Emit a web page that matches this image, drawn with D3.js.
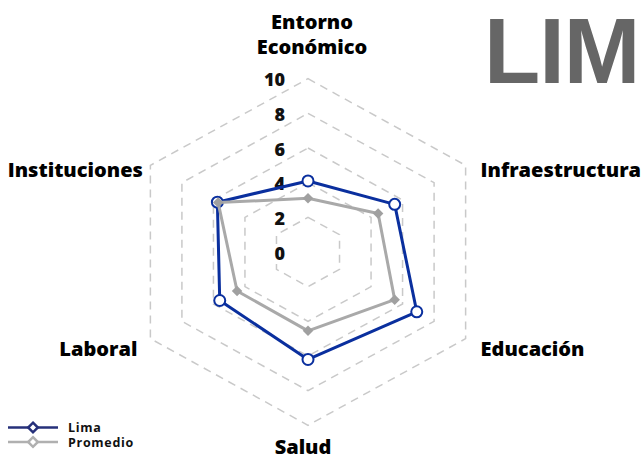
<!DOCTYPE html>
<html><head><meta charset="utf-8">
<script src="https://cdn.jsdelivr.net/npm/d3@7"></script>
<style>
html,body{margin:0;padding:0;background:#fff;}
svg{display:block;font-family:"Open Sans",Lato,sans-serif;}
</style></head>
<body>
<svg id="chart" width="643" height="457"></svg>
<script>
// ---- data ----
const axes = ["Entorno Económico", "Infraestructura", "Educación", "Salud", "Laboral", "Instituciones"];
const lima = [4.1, 5.5, 6.9, 6.2, 5.6, 5.75];
const promedio = [3.1, 4.45, 5.5, 4.55, 4.5, 5.7];
const ticks = [0, 2, 4, 6, 8, 10];
const gridLevels = [2, 4, 6, 8, 10];
const seriesNames = ["Lima", "Promedio"];
const title = "LIM";

// ---- layout ----
const svg = d3.select("#chart");
const cx = 308, cy = 252;
const ry = d3.scaleLinear().domain([0, 10]).range([0, 173.3]);
const rx = d3.scaleLinear().domain([0, 10]).range([0, 182]);
const angle = d3.scaleLinear().domain([0, axes.length]).range([0, 2 * Math.PI]);
const px = (i, v) => cx + rx(v) * Math.sin(angle(i));
const py = (i, v) => cy - ry(v) * Math.cos(angle(i));
const blue = "#0a2f9e", grey = "#a9a9a9";

// title
svg.append("text").attr("x", 484).attr("y", 83)
  .attr("font-family", "Liberation Sans, Arial, sans-serif")
  .attr("font-weight", "bold").attr("font-size", 92).attr("fill", "#666")
  .attr("letter-spacing", -1).text(title);

// grid
const ringLine = d3.line().x(d => px(d[0], d[1])).y(d => py(d[0], d[1])).curve(d3.curveLinearClosed);
svg.append("g").selectAll("path").data(gridLevels).join("path")
  .attr("d", lv => ringLine(axes.map((a, i) => [i, lv])))
  .attr("fill", "none").attr("stroke", "#c9c9c9").attr("stroke-width", 1.5)
  .attr("stroke-dasharray", "8,6");

// tick labels
svg.append("g").selectAll("text").data(ticks).join("text")
  .attr("x", 285).attr("y", t => py(0, t) + 7.5)
  .attr("text-anchor", "end").attr("font-weight", "800").attr("font-size", 18)
  .attr("fill", "#111").text(t => t);

// axis labels
const lab = svg.append("g").attr("font-weight", "800").attr("font-size", 20).attr("fill", "#000");
axes.forEach((name, i) => {
  const s = Math.sin(angle(i)), c = Math.cos(angle(i));
  const vx = px(i, 10), vy = py(i, 10);
  if (c > 0.9) {
    const words = name.split(" ");
    const t = lab.append("text").attr("text-anchor", "middle");
    words.forEach((w, k) => t.append("tspan").attr("x", vx + 4).attr("y", vy - 25 - (words.length - 1 - k) * 25).text(w));
  } else if (c < -0.9) {
    lab.append("text").attr("text-anchor", "middle").attr("x", vx - 5).attr("y", vy + 28.5).text(name);
  } else {
    lab.append("text").attr("text-anchor", s > 0 ? "start" : "end")
      .attr("x", vx + (s > 0 ? 15 : (c > 0 ? -7.5 : -13))).attr("y", vy + (c > 0 ? 11.5 : 17)).text(name);
  }
});

// series
const seriesLine = d3.line().x((d, i) => px(i, d)).y((d, i) => py(i, d)).curve(d3.curveLinearClosed);
svg.append("path").attr("d", seriesLine(lima)).attr("fill", "none")
  .attr("stroke", blue).attr("stroke-width", 3).attr("stroke-linejoin", "round");
svg.append("g").selectAll("circle").data(lima).join("circle")
  .attr("cx", (d, i) => px(i, d)).attr("cy", (d, i) => py(i, d)).attr("r", 5.5)
  .attr("fill", "#fff").attr("stroke", blue).attr("stroke-width", 2);

svg.append("path").attr("d", seriesLine(promedio)).attr("fill", "none")
  .attr("stroke", grey).attr("stroke-width", 3).attr("stroke-linejoin", "round");
const diamond = d3.symbol().type(d3.symbolDiamond2).size(70);
svg.append("g").selectAll("path").data(promedio).join("path")
  .attr("d", diamond)
  .attr("transform", (d, i) => `translate(${px(i, d)},${py(i, d)})`)
  .attr("fill", "#a0a0a0");

// legend
const legColors = ["#26307a", "#b0b0b0"];
const leg = svg.append("g").selectAll("g").data(seriesNames).join("g")
  .attr("transform", (d, i) => `translate(8,${427.5 + i * 14.5})`);
leg.append("line").attr("x1", 0).attr("x2", 50).attr("y1", 0).attr("y2", 0)
  .attr("stroke", (d, i) => legColors[i]).attr("stroke-width", 2.5);
leg.append("path").attr("d", d3.symbol().type(d3.symbolDiamond2).size(60))
  .attr("transform", "translate(25,0)").attr("fill", "#fff")
  .attr("stroke", (d, i) => legColors[i]).attr("stroke-width", 2.5);
leg.append("text").attr("x", 60).attr("y", 4.5).attr("font-weight", "bold")
  .attr("font-size", 12.5).attr("letter-spacing", 0.7).attr("fill", "#111").text(d => d);
</script>
</body></html>
